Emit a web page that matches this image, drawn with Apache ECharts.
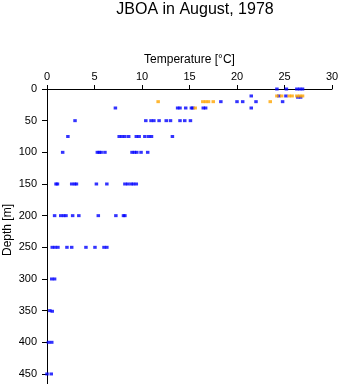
<!DOCTYPE html>
<html>
<head>
<meta charset="utf-8">
<script src="https://cdn.jsdelivr.net/npm/echarts@6/dist/echarts.min.js"></script>
<style>
html,body{margin:0;padding:0;background:#fff;}
#chart{width:341px;height:384px;}
</style>
</head>
<body>
<div id="chart"></div>
<script>
// Depth ticks (m) and temperature ticks (°C)
var depthTicks = [0, 50, 100, 150, 200, 250, 300, 350, 400, 450];
var tempTicks = [0, 5, 10, 15, 20, 25, 30];

// Blue series: temperature °C and depth m
var blueTemp = [
  24.2, 25.2, 26.3, 26.6, 26.9,
  21.5, 24.4, 25.15, 26.4, 26.7,
  18.3, 20.0, 20.6, 22.0, 24.8,
  7.2, 13.75, 14.0, 14.6, 15.2, 15.35, 16.45, 16.7, 21.5,
  2.95, 10.4, 10.95, 11.25, 11.8, 12.55, 13.0, 14.0, 14.5, 15.1,
  2.2, 7.6, 7.9, 8.2, 8.6, 9.4, 9.7, 10.3, 10.7, 11.0, 13.2,
  1.65, 5.3, 5.5, 5.7, 6.1, 8.95, 9.2, 9.45, 9.9, 10.6,
  0.95, 1.1, 2.6, 2.9, 3.1, 5.2, 6.3, 8.2, 8.5, 8.85, 9.1, 9.4,
  0.8, 1.45, 1.75, 2.0, 2.7, 3.35, 5.4, 7.25, 8.05, 8.2,
  0.55, 0.85, 1.15, 2.1, 2.6, 4.1, 5.05, 6.0, 6.3,
  0.5, 0.8,
  0.3, 0.55,
  0.15, 0.5,
  0.0, 0.45
];
var blueDepth = [
  0, 0, 0, 0, 0,
  11, 11, 11, 13, 13,
  20, 20, 20, 20, 20,
  30, 30, 30, 30, 30, 30, 30, 30, 30,
  50, 50, 50, 50, 50, 50, 50, 50, 50, 50,
  75, 75, 75, 75, 75, 75, 75, 75, 75, 75, 75,
  100, 100, 100, 100, 100, 100, 100, 100, 100, 100,
  150, 150, 150, 150, 150, 150, 150, 150, 150, 150, 150, 150,
  200, 200, 200, 200, 200, 200, 200, 200, 200, 200,
  250, 250, 250, 250, 250, 250, 250, 250, 250,
  300, 300,
  350, 351,
  400, 400,
  450, 450
];

// Orange series: temperature °C and depth m
var orangeTemp = [24.2, 24.7, 25.5, 25.8, 26.3, 26.6, 26.9, 11.7, 16.4, 16.7, 17.0, 17.5, 23.5, 15.6];
var orangeDepth = [11, 11, 11, 11, 11, 11, 11, 20, 20, 20, 20, 20, 20, 30];

function pairs(xs, ys) {
  var out = [];
  for (var i = 0; i < xs.length; i++) out.push([xs[i], ys[i]]);
  return out;
}

var font = 'Liberation Sans, Arial, Helvetica, sans-serif';
var chart = echarts.init(document.getElementById('chart'), null, {renderer: 'canvas'});
chart.setOption({
  animation: false,
  backgroundColor: '#ffffff',
  title: {
    text: 'JBOA in August, 1978',
    left: 190,
    textAlign: 'center',
    top: -3,
    textStyle: {fontFamily: font, fontSize: 16, fontWeight: 'normal', color: '#000'}
  },
  graphic: [{
    type: 'text',
    x: 8,
    y: 230,
    rotation: Math.PI / 2,
    style: {text: 'Depth [m]', font: '12px ' + font, fill: '#000', align: 'center', verticalAlign: 'middle'}
  }],
  grid: {left: 47, top: 89, width: 285, height: 295.1, containLabel: false, outerBoundsMode: 'none'},
  xAxis: {
    type: 'value',
    position: 'top',
    min: 0, max: 30, interval: 5,
    name: 'Temperature [°C]',
    nameLocation: 'middle',
    nameGap: 21,
    nameTextStyle: {fontFamily: font, fontSize: 12, color: '#000'},
    axisLine: {show: true, lineStyle: {color: '#000', width: 1}},
    axisTick: {show: true, inside: false, length: 4, lineStyle: {color: '#000'}, customValues: tempTicks},
    axisLabel: {fontFamily: font, fontSize: 11, color: '#000', margin: 7, customValues: tempTicks},
    splitLine: {show: false}
  },
  yAxis: {
    type: 'value',
    inverse: true,
    min: 0, max: 466,
    axisLine: {show: true, onZero: false, lineStyle: {color: '#000', width: 1}},
    axisTick: {show: true, inside: false, length: 5, lineStyle: {color: '#000'}, customValues: depthTicks},
    axisLabel: {fontFamily: font, fontSize: 11, color: '#000', margin: 10, customValues: depthTicks},
    splitLine: {show: false}
  },
  series: [
    {
      type: 'scatter',
      name: 'blue',
      symbol: 'rect',
      symbolSize: [3.5, 3],
      itemStyle: {color: '#0000ff'},
      data: pairs(blueTemp, blueDepth)
    },
    {
      type: 'scatter',
      name: 'orange',
      symbol: 'rect',
      symbolSize: [3.5, 3],
      itemStyle: {color: '#ffa500'},
      data: pairs(orangeTemp, orangeDepth)
    }
  ]
});
</script>
</body>
</html>
